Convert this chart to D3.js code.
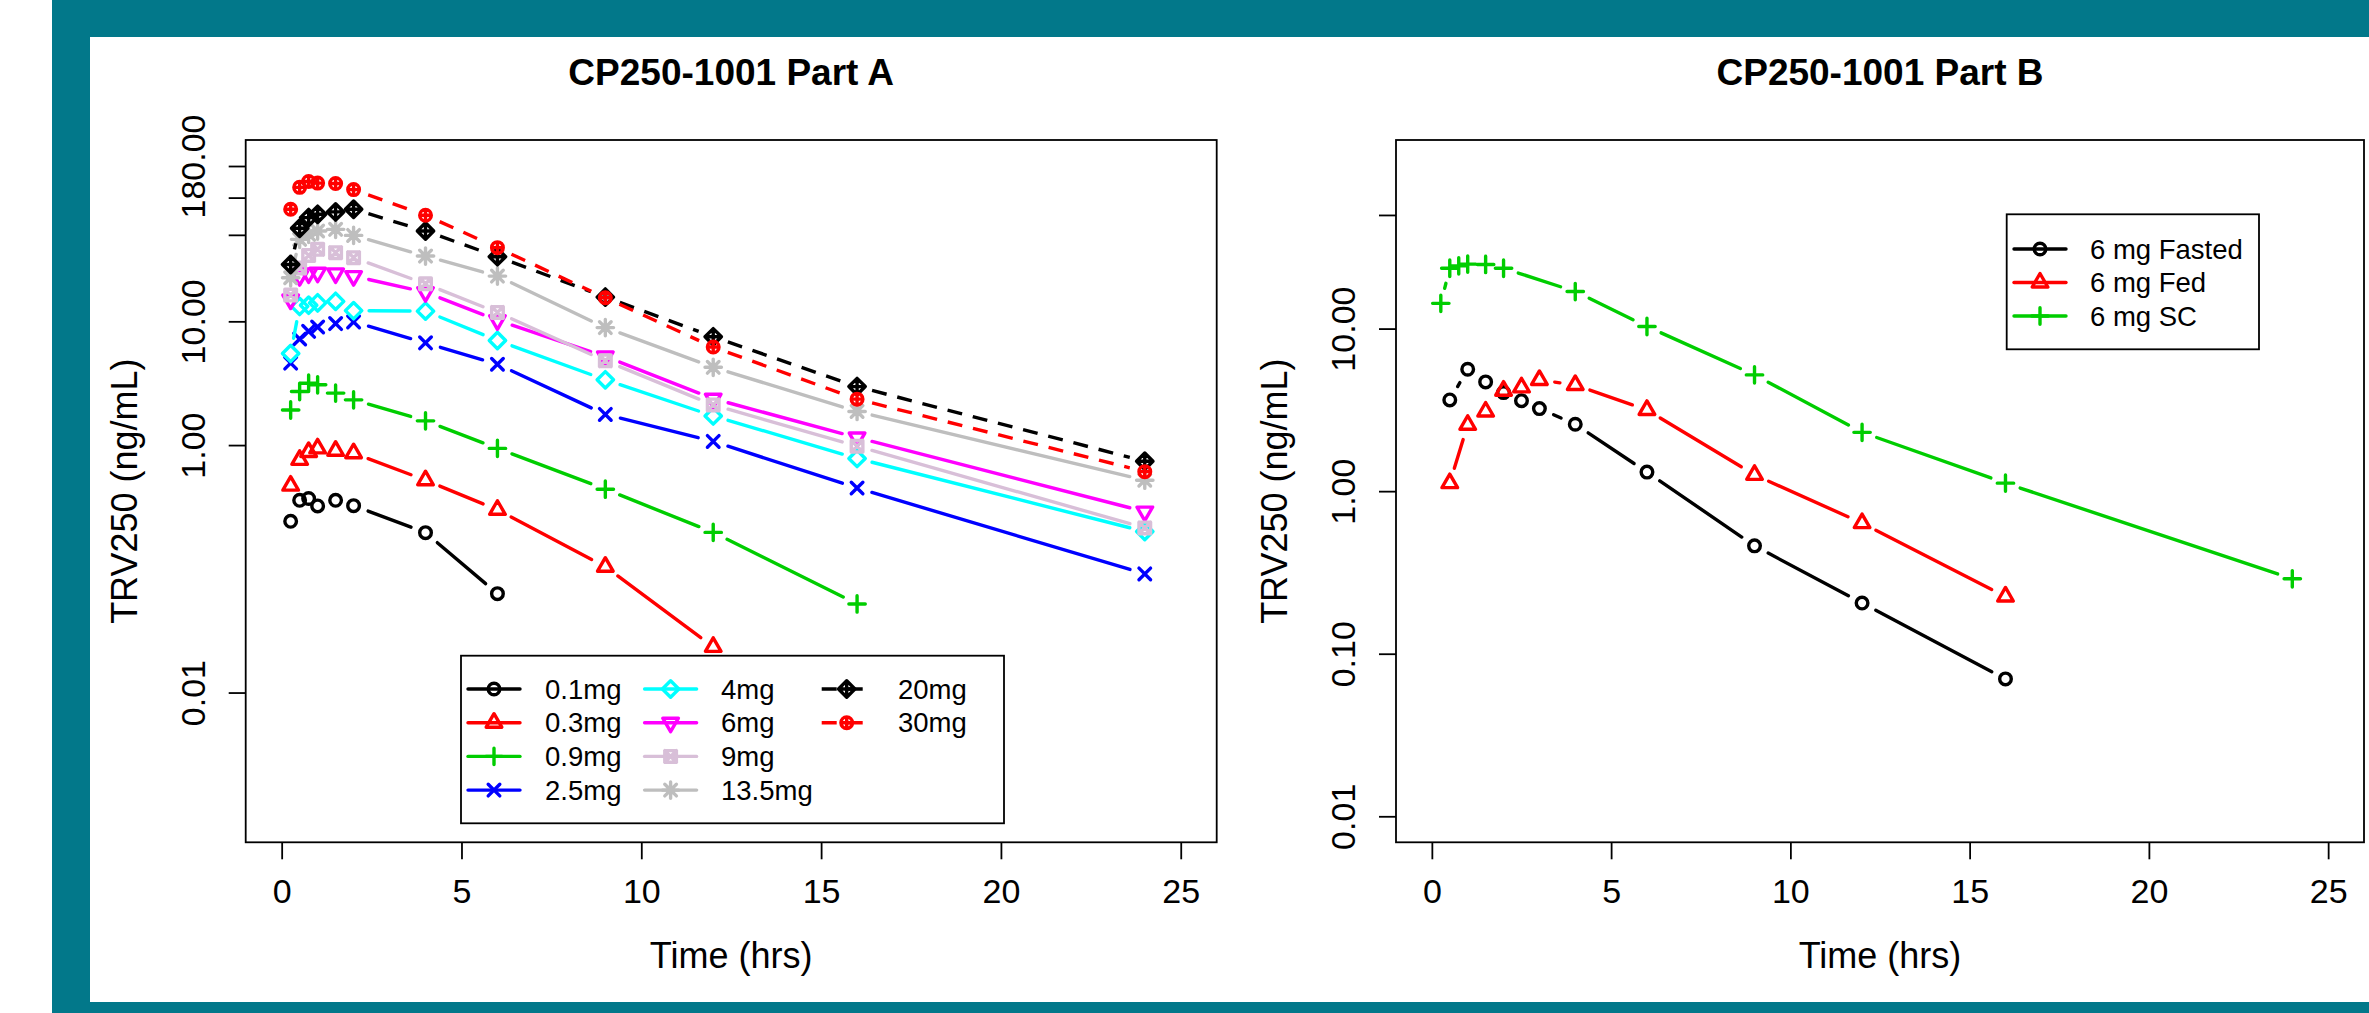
<!DOCTYPE html>
<html>
<head>
<meta charset="utf-8">
<script src="https://d3js.org/d3.v7.min.js"></script>
<style>
  html, body { margin: 0; padding: 0; background: #fff; }
  svg { display: block; font-family: "Liberation Sans", Arial, Helvetica, sans-serif; }
</style>
</head>
<body>
<script>
// sampling times (hrs)
var timesA  = [0.25, 0.5, 0.75, 1, 1.5, 2, 4, 6, 9, 12, 16, 24];
var timesB  = [0.5, 1, 1.5, 2, 2.5, 3, 4, 6, 9, 12, 16];
var timesSC = [0.25, 0.5, 0.75, 1, 1.5, 2, 4, 6, 9, 12, 16, 24];

// Part A mean concentrations (ng/mL)
var conc0p1 = [0.242, 0.358, 0.37, 0.322, 0.358, 0.324, 0.196, 0.063];
var conc0p3 = [0.47, 0.76, 0.88, 0.94, 0.90, 0.86, 0.52, 0.30, 0.104, 0.0234];
var conc0p9 = [1.92, 2.71, 3.16, 3.07, 2.63, 2.32, 1.57, 0.94, 0.44, 0.197, 0.052];
var conc2p5 = [4.6, 7.2, 8.3, 9.0, 9.6, 9.9, 6.7, 4.5, 1.77, 1.07, 0.45, 0.091];
var conc4   = [5.5, 13.2, 13.5, 14.1, 14.5, 12.2, 12.1, 7.0, 3.37, 1.72, 0.78, 0.20];
var conc6   = [15, 23.2, 24.4, 24.7, 24.4, 23.2, 17.2, 10.2, 5.2, 2.37, 1.15, 0.29];
var conc9   = [16.3, 27, 34.1, 38.2, 35.9, 32.7, 20.1, 11.8, 4.8, 2.11, 0.98, 0.214];
var conc13p5 = [22.5, 46, 50.5, 53.7, 55.4, 49.5, 33.7, 23.2, 8.9, 4.25, 1.87, 0.52];
var conc20  = [28.8, 56.5, 68.9, 73.3, 76.6, 80.5, 53.7, 33.3, 15.7, 7.5, 2.97, 0.74];
var conc30  = [80.5, 121, 135, 131, 130, 116, 72, 39.4, 15.5, 6.2, 2.35, 0.61];

// Part B (6 mg) concentrations
var concFasted = [3.64, 5.62, 4.70, 4.04, 3.60, 3.22, 2.58, 1.31, 0.461, 0.205, 0.070];
var concFed    = [1.12, 2.56, 3.09, 4.15, 4.35, 4.83, 4.50, 3.16, 1.26, 0.636, 0.225];
var concSC     = [14.3, 23.5, 24.3, 24.9, 24.8, 23.5, 16.9, 10.3, 5.19, 2.30, 1.12, 0.289];

var labelsA = ["0.1mg", "0.3mg", "0.9mg", "2.5mg", "4mg", "6mg", "9mg", "13.5mg", "20mg", "30mg"];
var labelsB = ["6 mg Fasted", "6 mg Fed", "6 mg SC"];

// axis ticks
var xTicks = [0, 5, 10, 15, 20, 25];
var yTicksA = [0.01, 1, 10, 50, 100, 180];
var yTickLabelsA = ["0.01", "1.00", "10.00", "", "", "180.00"];
var yTicksB = [0.01, 0.1, 1, 10, 50];
var yTickLabelsB = ["0.01", "0.10", "1.00", "10.00", ""];

// styles (R palette)
var colorsA = ["#000000", "#FF0000", "#00CD00", "#0000FF", "#00FFFF", "#FF00FF", "#D8BFD8", "#BEBEBE", "#000000", "#FF0000"];
var pchA = [1, 2, 3, 4, 5, 6, 7, 8, 9, 10];
var dashA = [false, false, false, false, false, false, false, false, true, true];
var colorsB = ["#000000", "#FF0000", "#00CD00"];
var pchB = [1, 2, 3];

var W = 2369, H = 1013;
var RAD = 5.8, LWD = 3.4, GAP = 15.5;
var FONT = '"Liberation Sans", Arial, Helvetica, sans-serif';

var svg = d3.select("body").append("svg")
    .attr("width", W)
    .attr("height", H);

svg.append("rect").attr("width", W).attr("height", H).attr("fill", "#fff");

// teal frame
var teal = "#02788a";
svg.append("rect").attr("x", 52).attr("y", 0).attr("width", W - 52).attr("height", 37).attr("fill", teal);
svg.append("rect").attr("x", 52).attr("y", 0).attr("width", 38).attr("height", H).attr("fill", teal);
svg.append("rect").attr("x", 52).attr("y", 1002).attr("width", W - 52).attr("height", H - 1002).attr("fill", teal);

// R-like plotting symbols
function symbolPath(pch) {
  var r = RAD, s2 = Math.SQRT2 * RAD;
  var p = d3.path();
  function seg(x0, y0, x1, y1) { p.moveTo(x0, y0); p.lineTo(x1, y1); }
  function circ(rr) { p.moveTo(rr, 0); p.arc(0, 0, rr, 0, 2 * Math.PI); }
  function poly(pts) {
    p.moveTo(pts[0][0], pts[0][1]);
    pts.slice(1).forEach(function (q) { p.lineTo(q[0], q[1]); });
    p.closePath();
  }
  switch (pch) {
    case 1: circ(r); break;
    case 2: poly([[0, -1.5551 * r], [1.3468 * r, 0.7776 * r], [-1.3468 * r, 0.7776 * r]]); break;
    case 3: seg(-s2, 0, s2, 0); seg(0, -s2, 0, s2); break;
    case 4: seg(-r, -r, r, r); seg(-r, r, r, -r); break;
    case 5: poly([[0, -s2], [s2, 0], [0, s2], [-s2, 0]]); break;
    case 6: poly([[0, 1.5551 * r], [1.3468 * r, -0.7776 * r], [-1.3468 * r, -0.7776 * r]]); break;
    case 7: poly([[-r, -r], [r, -r], [r, r], [-r, r]]); seg(-r, -r, r, r); seg(-r, r, r, -r); break;
    case 8: seg(-s2, 0, s2, 0); seg(0, -s2, 0, s2); seg(-r, -r, r, r); seg(-r, r, r, -r); break;
    case 9: poly([[0, -s2], [s2, 0], [0, s2], [-s2, 0]]); seg(-s2, 0, s2, 0); seg(0, -s2, 0, s2); break;
    case 10: circ(r); seg(-r, 0, r, 0); seg(0, -r, 0, r); break;
  }
  return p.toString();
}

// type = "b": segments stop short of each point
function gappedSegments(pts) {
  var segs = [];
  for (var i = 1; i < pts.length; i++) {
    var a = pts[i - 1], b = pts[i];
    var dx = b[0] - a[0], dy = b[1] - a[1], d = Math.hypot(dx, dy);
    if (d > 2 * GAP) {
      segs.push([a[0] + GAP * dx / d, a[1] + GAP * dy / d, b[0] - GAP * dx / d, b[1] - GAP * dy / d]);
    }
  }
  return segs;
}

function logScale(lo, hi, range) {
  var a = Math.log10(lo), b = Math.log10(hi), pad = 0.04 * (b - a);
  return d3.scaleLog().domain([Math.pow(10, a - pad), Math.pow(10, b + pad)]).range(range);
}

function drawPanel(cfg) {
  var x = d3.scaleLinear().domain([-1, 26]).range([cfg.left, cfg.right]);
  var y = logScale(cfg.ylo, cfg.yhi, [cfg.bottom, cfg.top]);

  // series
  cfg.series.forEach(function (s) {
    var pts = s.t.map(function (t, i) { return [x(t), y(s.v[i])]; });
    var g = svg.append("g");
    g.selectAll("line")
      .data(gappedSegments(pts))
      .join("line")
        .attr("x1", function (d) { return d[0]; })
        .attr("y1", function (d) { return d[1]; })
        .attr("x2", function (d) { return d[2]; })
        .attr("y2", function (d) { return d[3]; })
        .attr("stroke", s.color)
        .attr("stroke-width", LWD)
        .attr("stroke-linecap", s.dashed ? "butt" : "round")
        .attr("stroke-dasharray", s.dashed ? "15,11" : null);
    g.selectAll("path")
      .data(pts)
      .join("path")
        .attr("transform", function (d) { return "translate(" + d[0] + "," + d[1] + ")"; })
        .attr("d", symbolPath(s.pch))
        .attr("fill", "none")
        .attr("stroke", s.color)
        .attr("stroke-width", LWD)
        .attr("stroke-linecap", "round")
        .attr("stroke-linejoin", "round");
  });

  // box
  svg.append("rect")
    .attr("x", cfg.left).attr("y", cfg.top)
    .attr("width", cfg.right - cfg.left).attr("height", cfg.bottom - cfg.top)
    .attr("fill", "none").attr("stroke", "#000").attr("stroke-width", 1.8);

  // x axis
  var gx = svg.append("g")
    .attr("transform", "translate(0," + cfg.bottom + ")")
    .call(d3.axisBottom(x).tickValues(xTicks).tickSizeInner(17).tickSizeOuter(0).tickPadding(0));
  gx.attr("font-family", FONT).attr("font-size", 34);
  gx.select(".domain").remove();
  gx.selectAll(".tick line").attr("stroke", "#000").attr("stroke-width", 1.8);
  gx.selectAll(".tick text").attr("y", 61).attr("dy", null).attr("fill", "#000");

  // y axis
  var gy = svg.append("g")
    .attr("transform", "translate(" + cfg.left + ",0)")
    .call(d3.axisLeft(y).tickValues(cfg.ticks)
      .tickFormat(function (d, i) { return cfg.tickLabels[i]; })
      .tickSizeInner(17).tickSizeOuter(0));
  gy.attr("font-family", FONT).attr("font-size", 34);
  gy.select(".domain").remove();
  gy.selectAll(".tick line").attr("stroke", "#000").attr("stroke-width", 1.8);
  gy.selectAll(".tick text")
    .attr("transform", "rotate(-90)")
    .attr("x", 0).attr("y", -41).attr("dy", null)
    .attr("text-anchor", "middle")
    .attr("fill", "#000");

  var cx = (cfg.left + cfg.right) / 2;
  // title
  svg.append("text")
    .attr("x", cx).attr("y", 85)
    .attr("text-anchor", "middle")
    .attr("font-size", 37).attr("font-weight", "bold")
    .text(cfg.title);
  // axis labels
  svg.append("text")
    .attr("x", cx).attr("y", 968)
    .attr("text-anchor", "middle")
    .attr("font-size", 36)
    .text("Time (hrs)");
  svg.append("text")
    .attr("transform", "translate(" + (cfg.left - 108.6) + "," + ((cfg.top + cfg.bottom) / 2) + ") rotate(-90)")
    .attr("text-anchor", "middle")
    .attr("font-size", 36)
    .text("TRV250 (ng/mL)");

  return { x: x, y: y };
}

function legendEntry(g, sx, ty, tx, s, label) {
  g.append("line")
    .attr("x1", sx - 26).attr("x2", sx + 26).attr("y1", ty).attr("y2", ty)
    .attr("stroke", s.color).attr("stroke-width", LWD)
    .attr("stroke-linecap", s.dashed ? "butt" : "round")
    .attr("stroke-dasharray", s.dashed ? "15,11" : null)
    .attr("stroke-dashoffset", s.dashed ? -1 : null);
  g.append("path")
    .attr("transform", "translate(" + sx + "," + ty + ")")
    .attr("d", symbolPath(s.pch))
    .attr("fill", "none").attr("stroke", s.color).attr("stroke-width", LWD)
    .attr("stroke-linecap", "round").attr("stroke-linejoin", "round");
  g.append("text")
    .attr("x", tx).attr("y", ty + 9.6)
    .attr("font-size", 27.5)
    .text(label);
}

// ---- Part A ----
var valuesA = [conc0p1, conc0p3, conc0p9, conc2p5, conc4, conc6, conc9, conc13p5, conc20, conc30];
var seriesA = valuesA.map(function (v, i) {
  return { t: timesA.slice(0, v.length), v: v, color: colorsA[i], pch: pchA[i], dashed: dashA[i] };
});
drawPanel({
  left: 245.7, right: 1216.7, top: 140, bottom: 842.3,
  ylo: 0.001, yhi: 180,
  ticks: yTicksA, tickLabels: yTickLabelsA,
  title: "CP250-1001 Part A",
  series: seriesA
});

var legA = svg.append("g");
legA.append("rect")
  .attr("x", 461).attr("y", 655.7).attr("width", 543).attr("height", 167.6)
  .attr("fill", "#fff").attr("stroke", "#000").attr("stroke-width", 1.8);
var colSym = [494, 670.6, 846.7], colText = [545, 721, 898];
seriesA.forEach(function (s, i) {
  var col = Math.floor(i / 4), row = i % 4;
  legendEntry(legA, colSym[col], 689 + row * 33.7, colText[col], s, labelsA[i]);
});

// ---- Part B ----
var seriesB = [
  { t: timesB, v: concFasted, color: colorsB[0], pch: pchB[0], dashed: false },
  { t: timesB, v: concFed, color: colorsB[1], pch: pchB[1], dashed: false },
  { t: timesSC, v: concSC, color: colorsB[2], pch: pchB[2], dashed: false }
];
drawPanel({
  left: 1396, right: 2364, top: 140, bottom: 842.3,
  ylo: 0.01, yhi: 100,
  ticks: yTicksB, tickLabels: yTickLabelsB,
  title: "CP250-1001 Part B",
  series: seriesB
});

var legB = svg.append("g");
legB.append("rect")
  .attr("x", 2006.7).attr("y", 214.3).attr("width", 252.3).attr("height", 135)
  .attr("fill", "#fff").attr("stroke", "#000").attr("stroke-width", 1.8);
seriesB.forEach(function (s, i) {
  legendEntry(legB, 2040, 249 + i * 33.5, 2090, s, labelsB[i]);
});
</script>
</body>
</html>
